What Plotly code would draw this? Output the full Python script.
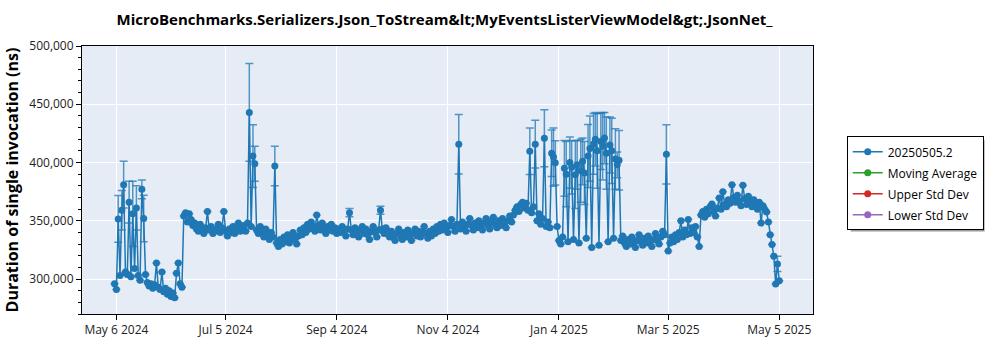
import pandas as pd
import plotly.graph_objects as go

# ---- data (ns), one value per day ----
may_2024 = [296000, 291000, 351600, 303000, 359000, 381000, 306000, 304000, 366000, 302000,
            356000, 309000, 361000, 303000, 299000, 377000, 352000, 304000, 297000, 294000,
            296000, 292000, 295000, 313700, 293000, 291000, 306000]
jun_2024 = [289000, 292000, 287000, 290000, 285000, 288000, 284000, 305000, 313700, 296000,
            293000, 354000, 357000, 349000, 356000, 351000, 346000, 348000, 343000, 341000,
            347000, 343000, 339000, 344000, 358000, 342000, 345000, 339000, 341000, 343000]
jul_2024 = [347000, 340000, 344000, 358000, 341000, 337000, 343000, 340000, 345000, 339000,
            342000, 348000, 341000, 344000, 346000, 341000, 348000, 443000, 345000, 405500,
            399000, 342000, 339000, 345000, 341000, 336000, 343000, 339000, 334000, 340000,
            336000]
aug_2024 = [397000, 331000, 328000, 334000, 330000, 336000, 332000, 338000, 331000, 335000,
            340000, 334000, 330000, 337000, 342000, 338000, 344000, 340000, 347000, 343000,
            349000, 345000, 341000, 355000, 346000, 342000, 348000, 344000, 339000, 345000,
            342000]
sep_2024 = [347000, 341000, 344000, 339000, 343000, 340000, 345000, 341000, 337000, 343000,
            357000, 342000, 338000, 344000, 340000, 336000, 342000, 345000, 339000, 343000,
            338000, 334000, 341000, 345000, 340000, 336000, 342000, 359000, 343000, 339000]
oct_2024 = [344000, 340000, 336000, 341000, 337000, 333000, 339000, 343000, 337000, 334000,
            340000, 336000, 342000, 338000, 333000, 339000, 343000, 337000, 341000, 336000,
            340000, 345000, 339000, 335000, 341000, 337000, 343000, 339000, 345000, 341000,
            347000]
nov_2024 = [342000, 348000, 344000, 340000, 346000, 351000, 345000, 341000, 347000, 415700,
            343000, 349000, 345000, 341000, 347000, 352000, 346000, 342000, 348000, 344000,
            350000, 346000, 342000, 348000, 352000, 346000, 343000, 349000, 353000, 347000]
dec_2024 = [344000, 350000, 346000, 352000, 348000, 344000, 350000, 354000, 349000, 355000,
            359000, 362000, 358000, 364000, 366000, 361000, 365000, 359000, 409700, 357000,
            362000, 415700, 350000, 356000, 347000, 352000, 420800, 345000, 349000, 344000,
            408000]
jan_2025 = [404700, 399700, 345000, 333000, 330000, 336000, 395000, 390000, 332000, 400000,
            396000, 334000, 389600, 398000, 331000, 393000, 401000, 391000, 335000, 405600,
            412000, 327000, 416000, 420000, 410000, 329000, 418000, 414000, 421000, 408000,
            332000]
feb_2025 = [415000, 410000, 335000, 403000, 398000, 402000, 333000, 337000, 331000, 328000,
            334000, 330000, 336000, 332000, 327000, 333000, 338000, 332000, 329000, 335000,
            331000, 337000, 333000, 328000, 334000, 339000, 333000, 330000]
mar_2025 = [336000, 341000, 338000, 407000, 324000, 331000, 336000, 332000, 338000, 334000,
            340000, 350000, 336000, 342000, 338000, 351000, 339000, 344000, 340000, 345000,
            336000, 328000, 355000, 358000, 353000, 360000, 356000, 362000, 364500, 358000,
            354000]
apr_2025 = [361000, 369600, 360000, 375000, 364000, 362000, 368000, 365000, 381000, 370000,
            366000, 372000, 367000, 363000, 380500, 369000, 364000, 371000, 366000, 362000,
            368000, 365000, 360000, 366000, 348000, 363000, 360000, 357500, 349000, 338000]
may_2025 = [329700, 319600, 295800, 313000, 298600]

month_starts = ["2024-05-05", "2024-06-01", "2024-07-01", "2024-08-01", "2024-09-01",
                "2024-10-01", "2024-11-01", "2024-12-01", "2025-01-01", "2025-02-01",
                "2025-03-01", "2025-04-01", "2025-05-01"]
month_values = [may_2024, jun_2024, jul_2024, aug_2024, sep_2024, oct_2024, nov_2024,
                dec_2024, jan_2025, feb_2025, mar_2025, apr_2025, may_2025]

# error bar half-heights (ns) on the days that show visible bars
err_dates = ["2024-05-07", "2024-05-09", "2024-05-10", "2024-05-13", "2024-05-15", "2024-05-17",
             "2024-05-20", "2024-05-21", "2024-07-18", "2024-07-20", "2024-07-21", "2024-08-01",
             "2024-09-11", "2024-09-28", "2024-11-10", "2024-12-19", "2024-12-22", "2024-12-27",
             "2024-12-31", "2025-01-01", "2025-01-02", "2025-01-07", "2025-01-08", "2025-01-10",
             "2025-01-11", "2025-01-13", "2025-01-14", "2025-01-16", "2025-01-17", "2025-01-18",
             "2025-01-20", "2025-01-21", "2025-01-23", "2025-01-24", "2025-01-25", "2025-01-27",
             "2025-01-28", "2025-01-29", "2025-01-30", "2025-02-01", "2025-02-02", "2025-02-04",
             "2025-02-05", "2025-02-06", "2025-03-04", "2025-05-04"]
err_values = [20000, 17000, 20000, 18000, 28000, 19000,
              8000, 20000, 42000, 27000, 15000, 17000,
              3500, 3500, 25500, 20000, 20500, 24500,
              20000, 25000, 19000, 24000, 28000, 22000,
              23000, 29000, 21000, 27000, 20000, 27000,
              27000, 28000, 26000, 23000, 32000, 24000,
              29000, 22000, 31000, 24000, 28000, 26000,
              11000, 25500, 25500, 6500]

tick_dates = ["2024-05-06", "2024-07-05", "2024-09-04", "2024-11-04",
              "2025-01-04", "2025-03-05", "2025-05-05"]

series_name = "20250505.2"
other_series = ["Moving Average", "Upper Std Dev", "Lower Std Dev"]
other_colors = ["#2ca02c", "#d62728", "#9467bd"]

# ---- build ----
dates, values = [], []
for start, vals in zip(month_starts, month_values):
    dates += list(pd.date_range(start, periods=len(vals), freq="D").strftime("%Y-%m-%d"))
    values += vals
err_map = dict(zip(err_dates, err_values))
errors = [err_map.get(d) for d in dates]

FONT = "Open Sans"
fig = go.Figure()
fig.add_trace(go.Scatter(
    x=dates, y=values, mode="lines+markers", name=series_name, legendgroup="g0",
    line=dict(color="#1f77b4", width=1.5),
    marker=dict(color="#1f77b4", size=7),
    error_y=dict(type="data", array=errors, symmetric=True,
                 color="rgba(31,119,180,0.75)", thickness=1.5, width=4),
))
for i, (nm, col) in enumerate(zip(other_series, other_colors)):
    fig.add_trace(go.Scatter(x=[None], y=[None], mode="lines+markers", name=nm,
                             legendgroup=f"g{i+1}",
                             line=dict(color=col, width=1.5), marker=dict(color=col, size=7)))

# plot area in pixels: x 76..813, y 46..319
PW, PH, PL, PB = 737.0, 273.0, 76.0, 319.0
def px(x):
    return (x - PL) / PW
def py(y):
    return (PB - y) / PH

# legend drop shadow
fig.add_shape(type="rect", xref="paper", yref="paper",
              x0=px(851), x1=px(986), y0=py(142), y1=py(235),
              fillcolor="#9a9a9a", line=dict(width=0), layer="below")

fig.update_layout(
    width=1000, height=350,
    margin=dict(l=76, r=187, t=46, b=31),
    paper_bgcolor="white", plot_bgcolor="#E5ECF6",
    font=dict(family=FONT, size=12, color="#222"),
    title=dict(text="MicroBenchmarks.Serializers.Json_ToStream&amp;lt;MyEventsListerViewModel&amp;gt;.JsonNet_",
               x=0.4445, xanchor="center", y=0.945, yanchor="middle",
               font=dict(family=FONT, size=15, color="black", weight="bold")),
    showlegend=True,
    legend=dict(x=px(847), xanchor="left", y=py(138), yanchor="top",
                bgcolor="white", bordercolor="black", borderwidth=1,
                tracegroupgap=2,
                font=dict(family=FONT, size=12, color="black")),
    xaxis=dict(type="date", range=["2024-04-17 03:00", "2025-05-23 12:00"],
               tickvals=tick_dates, tickformat="%b %-d %Y",
               showgrid=True, gridcolor="white", gridwidth=1,
               showline=True, linecolor="black", linewidth=1, mirror=True,
               ticks="outside", ticklen=5, tickcolor="black",
               tickfont=dict(family=FONT, size=12, color="#222"), zeroline=False),
    yaxis=dict(range=[270000, 500000], dtick=50000, tickformat=",",
               showgrid=True, gridcolor="white", gridwidth=1,
               showline=True, linecolor="black", linewidth=1, mirror=True,
               ticks="outside", ticklen=5, tickcolor="black",
               minor=dict(dtick=10000, ticks="outside", ticklen=3, tickcolor="black", showgrid=False),
               tickfont=dict(family=FONT, size=12, color="#222"), zeroline=False,
               title=dict(text="Duration of single invocation (ns)", standoff=6,
                          font=dict(family=FONT, size=16, color="black", weight="bold"))),
)

fig.write_html("out.html")
